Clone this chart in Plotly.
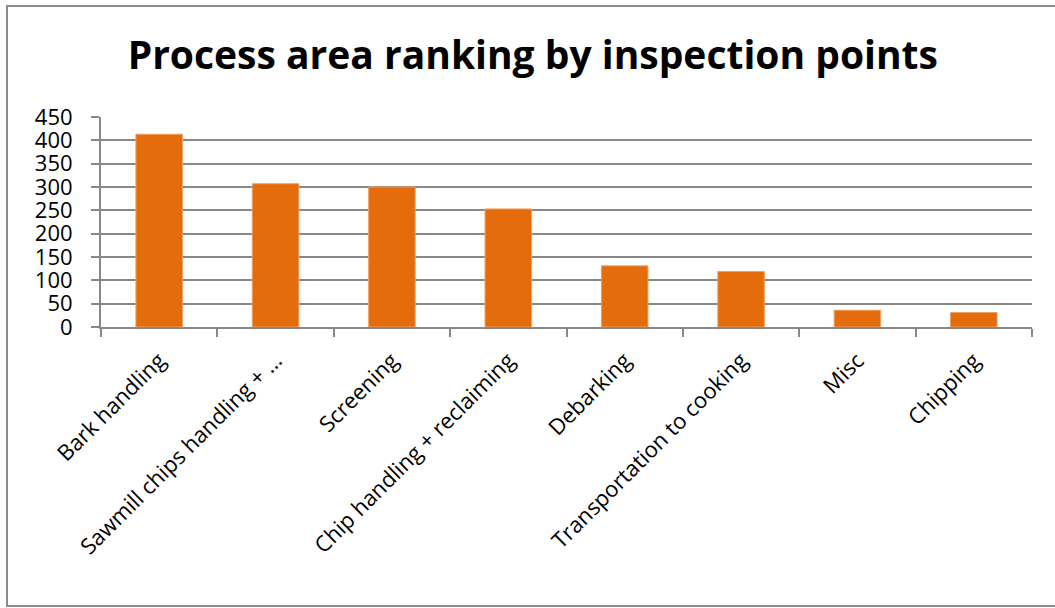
import plotly.graph_objects as go

categories = ["Bark handling", "Sawmill chips handling + …", "Screening",
              "Chip handling + reclaiming", "Debarking", "Transportation to cooking",
              "Misc", "Chipping"]
values = [413, 307, 300, 253, 131, 119, 36, 31]
y_ticks = [0, 50, 100, 150, 200, 250, 300, 350, 400, 450]

W, H = 1055, 608
ml, mr, mt, mb = 101, 23, 117, 281
pw, ph = W - ml - mr, H - mt - mb

def px_x(p):
    return (p - ml) / pw

def px_y(p):
    return (H - mb - p) / ph

fig = go.Figure(go.Bar(
    x=categories, y=values,
    marker=dict(color="#E46C0A", line=dict(color="#F0A060", width=1)),
    width=0.4,
))

fig.update_layout(
    width=W, height=H,
    margin=dict(l=ml, r=mr, t=mt, b=mb),
    paper_bgcolor="white", plot_bgcolor="white",
    font=dict(family="Open Sans", color="black", size=22),
    title=dict(text="<b>Process area ranking by inspection points</b>",
               x=0.505, xanchor="center", y=1 - 55 / H, yanchor="middle",
               font=dict(size=39, family="Open Sans", color="black")),
    showlegend=False,
    bargap=0.6,
)
fig.update_xaxes(
    type="category", showline=True, linecolor="#888888", linewidth=2,
    ticks="outside", tickson="boundaries", ticklen=8, tickcolor="#888888", tickwidth=2,
    tickangle=-45, showgrid=False, tickfont=dict(size=22), ticklabelstandoff=10,
)
fig.update_yaxes(
    range=[0, 450], tickvals=y_ticks, showline=True, linecolor="#888888", linewidth=2,
    ticks="outside", ticklen=8, tickcolor="#888888", tickwidth=2,
    showgrid=True, gridcolor="#888888", gridwidth=2, zeroline=False,
    tickfont=dict(size=22), ticklabelstandoff=14,
)
fig.add_shape(type="rect", xref="paper", yref="paper",
              x0=px_x(7), x1=px_x(1060), y0=px_y(6), y1=px_y(606),
              line=dict(color="#8c8c8c", width=2), fillcolor="rgba(0,0,0,0)",
              layer="below")

fig.write_html("out.html", config={"displayModeBar": False},
               post_script="document.body.style.margin='0';document.body.style.overflow='hidden';")
